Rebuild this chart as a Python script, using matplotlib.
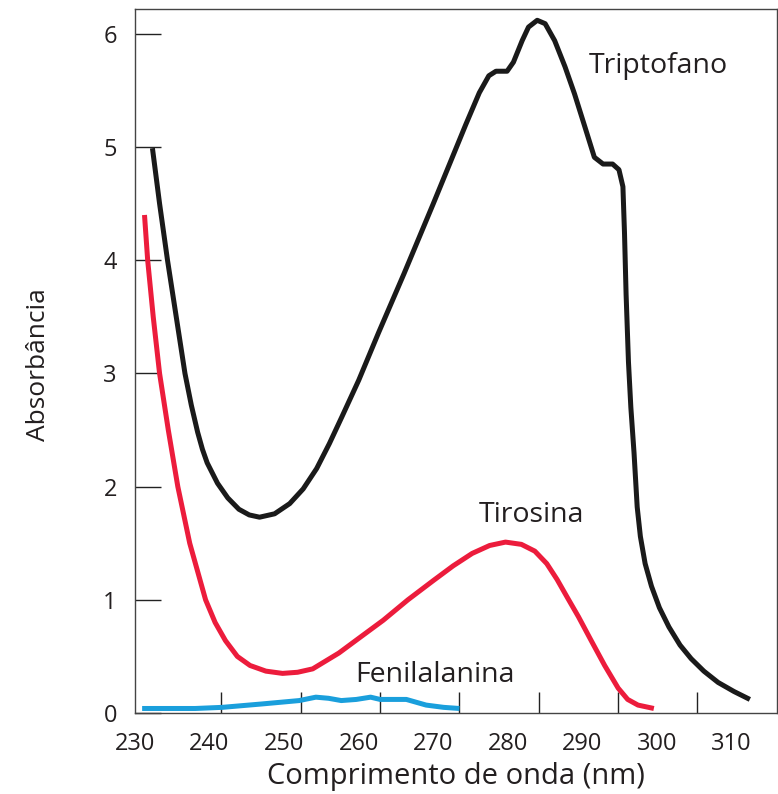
import matplotlib.pyplot as plt
import numpy as np

# values (wavelength nm, absorbance)
trp_nm = [231.3, 232.2, 233.2, 234.3, 235.4, 236.2, 237.0, 237.6, 238.2, 239.5,
          240.8, 242.2, 243.5, 244.8, 246.7, 248.6, 250.3, 252.0, 253.6, 255.2,
          257.3, 259.8, 263.0, 266.7, 270.8, 272.5, 273.7, 274.6, 276.0, 276.8,
          277.9, 278.7, 279.8, 280.8, 282.0, 283.3, 284.5, 285.8, 287.0, 288.1,
          289.3, 290.1, 290.6, 290.8, 291.0, 291.3, 291.6, 292.0, 292.4, 292.8,
          293.4, 294.2, 295.2, 296.4, 297.8, 299.2, 300.8, 302.6, 304.6, 306.6]
trp_abs = [4.99, 4.50, 4.00, 3.50, 3.00, 2.72, 2.48, 2.33, 2.21, 2.03,
           1.90, 1.80, 1.75, 1.73, 1.76, 1.85, 1.98, 2.16, 2.38, 2.62,
           2.94, 3.36, 3.88, 4.50, 5.20, 5.48, 5.63, 5.67, 5.67, 5.75,
           5.94, 6.06, 6.12, 6.09, 5.94, 5.71, 5.47, 5.18, 4.91, 4.85,
           4.85, 4.80, 4.65, 4.24, 3.70, 3.10, 2.70, 2.30, 1.82, 1.56,
           1.32, 1.12, 0.93, 0.76, 0.60, 0.48, 0.37, 0.27, 0.19, 0.12]

tyr_nm = [230.3, 230.7, 231.4, 232.2, 233.3, 234.5, 236.0, 238.0, 239.2, 240.5,
          242.0, 243.6, 245.6, 247.7, 249.6, 251.5, 254.8, 257.5, 260.4, 263.5,
          266.7, 269.2, 271.6, 273.8, 275.8, 277.8, 279.5, 281.0, 282.3, 283.6,
          285.0, 286.6, 288.3, 290.0, 291.2, 292.5, 294.5]
tyr_abs = [4.40, 4.00, 3.50, 3.00, 2.50, 2.00, 1.50, 1.00, 0.80, 0.64,
           0.50, 0.42, 0.37, 0.35, 0.36, 0.39, 0.53, 0.67, 0.82, 1.00,
           1.17, 1.30, 1.41, 1.48, 1.51, 1.49, 1.43, 1.32, 1.18, 1.02,
           0.85, 0.64, 0.42, 0.22, 0.12, 0.07, 0.04]

phe_nm = [230.0, 236.7, 240.1, 245.1, 249.8, 251.9, 253.5, 255.1, 257.0, 258.8,
          260.0, 263.3, 265.8, 268.0, 270.0]
phe_abs = [0.04, 0.04, 0.05, 0.08, 0.11, 0.14, 0.13, 0.11, 0.12, 0.14,
           0.12, 0.12, 0.07, 0.05, 0.04]

tick_vals = [240, 250, 260, 270, 280, 290, 300]
label_vals = np.arange(230, 311, 10)
ytick_vals = [0, 1, 2, 3, 4, 5, 6]

plt.rcParams["font.family"] = ["Open Sans", "DejaVu Sans"]
text_color = "#231f20"

fig = plt.figure(figsize=(7.78, 7.94), dpi=100)
ax = fig.add_axes([0.1735, 0.102, 0.825, 0.8867])

line_kw = dict(lw=3.6, solid_capstyle="butt", solid_joinstyle="round")
ax.plot(trp_nm, trp_abs, color="#1a1a1a", **line_kw)
ax.plot(tyr_nm, tyr_abs, color="#ec1c3c", **line_kw)
ax.plot(phe_nm, phe_abs, color="#1a9fdc", **line_kw)

ax.text(286.3, 5.72, "Triptofano", fontsize=20.5, color=text_color, va="center", ha="left")
ax.text(272.4, 1.75, "Tirosina", fontsize=20.5, color=text_color, va="center", ha="left")
ax.text(256.9, 0.34, "Fenilalanina", fontsize=20.5, color=text_color, va="center", ha="left")

ax.set_xlim(230, 310)
ax.set_ylim(0, 6.22)

# the printed labels sit on a slightly compressed scale vs. the tick marks
label_pos = 229.1 + (label_vals - 230) * 0.94
ax.set_xticks(label_pos, labels=[str(v) for v in label_vals])
ax.set_xticks(tick_vals, minor=True)
ax.tick_params(axis="x", which="major", length=0, pad=14, labelsize=17, labelcolor=text_color)
ax.tick_params(axis="x", which="minor", direction="in", length=15, width=1.0, color="#222222")

ax.set_yticks(ytick_vals)
ax.tick_params(axis="y", direction="in", length=19, width=1.0, color="#222222",
               pad=13, labelsize=17, labelcolor=text_color)

for s in ax.spines.values():
    s.set_color("#444444")
    s.set_linewidth(1.0)

ax.set_xlabel("Comprimento de onda (nm)", fontsize=21, color=text_color, va="center")
ax.set_ylabel("Absorbância", fontsize=19, color=text_color, va="center")
ax.xaxis.set_label_coords(0.5, -0.0895)
ax.yaxis.set_label_coords(-0.151, 0.495)

fig.savefig("out.png", dpi=100)
